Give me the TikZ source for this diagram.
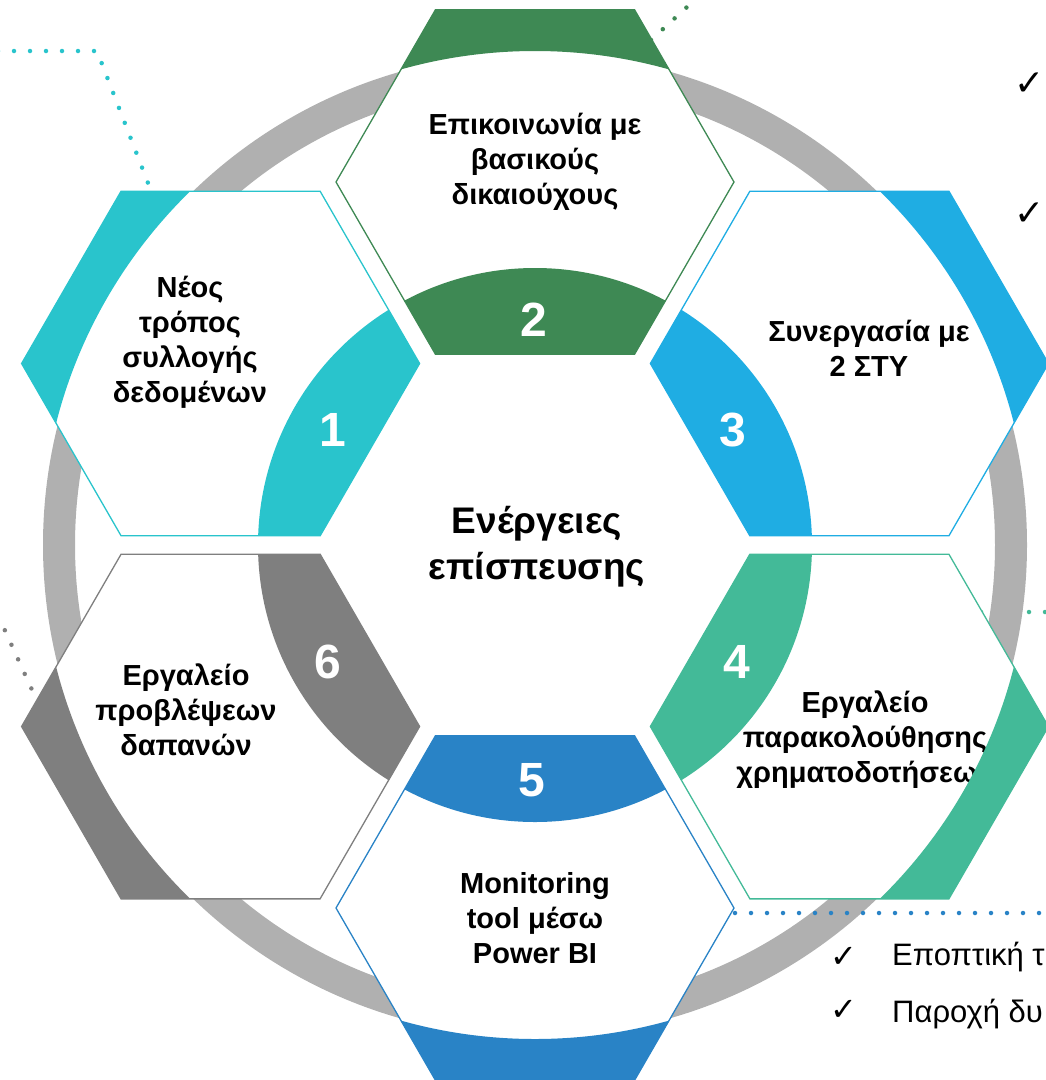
\documentclass[tikz,border=0pt]{standalone}
\usepackage{fontspec}
\setmainfont{Liberation Sans}
\newfontfamily\checkfont{DejaVu Sans}
\usetikzlibrary{shapes.geometric}

\definecolor{tealone}{HTML}{29C4CC}
\definecolor{greentwo}{HTML}{3E8954}
\definecolor{bluethree}{HTML}{1FADE3}
\definecolor{greenfour}{HTML}{43BA98}
\definecolor{bluefive}{HTML}{2983C6}
\definecolor{graysix}{HTML}{7F7F7F}
\definecolor{ringgray}{HTML}{B0B0B0}

\tikzset{
  hexa/.style={regular polygon, regular polygon sides=6, minimum size=398pt, inner sep=0pt},
  hexbase/.style={hexa, fill=white},
  hexband/.style={hexa, draw=#1, line width=1.3pt, path picture={
      \fill[#1] (O) circle[radius=277pt];
      \fill[#1, even odd rule] (O) circle[radius=494pt] (O) circle[radius=900pt];}},
  hexlabel/.style={align=center, inner sep=0pt, font=\fontsize{29}{35}\selectfont\bfseries},
  stepnum/.style={text=white, inner sep=0pt, font=\fontsize{48}{48}\selectfont\bfseries},
  dots/.style={line width=4.5pt, line cap=round, dash pattern=on 0pt off 16pt},
  checkmark/.style={inner sep=0pt, font=\checkfont\fontsize{32}{32}\selectfont},
  boldcheck/.style={anchor=east, inner sep=0pt, font=\checkfont\bfseries\fontsize{36}{36}\selectfont},
  bullettext/.style={anchor=base west, inner sep=0pt, font=\fontsize{31}{35}\selectfont},
}

\begin{document}
\begin{tikzpicture}[x=1pt, y=-1pt]
  \useasboundingbox (0,0) rectangle (1046,1080);
  \coordinate (O) at (535,545);

  % leader lines
  \coordinate (d1a) at (-2,51);
  \coordinate (d1b) at (97,51);
  \coordinate (d1c) at (148,183);
  \coordinate (d2a) at (651,40);
  \coordinate (d2b) at (699,-4);
  \coordinate (d6a) at (38,703);
  \coordinate (d6b) at (2,624);
  \coordinate (d4a) at (981,612);
  \coordinate (d4b) at (1052,612);
  \coordinate (d5a) at (735,913);
  \coordinate (d5b) at (1052,913);
  \draw[dots, tealone] (d1a) -- (d1b) -- (d1c);
  \draw[dots, greentwo] (d2a) -- (d2b);
  \draw[dots, graysix] (d6a) -- (d6b);
  \draw[dots, greenfour] (d4a) -- (d4b);

  % ring
  \fill[ringgray, even odd rule] (O) circle[radius=492pt] (O) circle[radius=460pt];
  \draw[dots, bluefive] (d5a) -- (d5b);

  % hexagons
  \node[hexbase] (h1) at (220.6,363.5) {};
  \node[hexlabel] (l1) at (190,342) {Νέος\\τρόπος\\συλλογής\\δεδομένων};
  \node[hexband=tealone] at (h1) {};
  \node[stepnum] (n1) at (333,430) {1};

  \node[hexbase] (h2) at (535,182) {};
  \node[hexlabel] (l2) at (535,162) {Επικοινωνία με\\βασικούς\\δικαιούχους};
  \node[hexband=greentwo] at (h2) {};
  \node[stepnum] (n2) at (534,320) {2};

  \node[hexbase] (h3) at (849.4,363.5) {};
  \node[hexlabel] (l3) at (869,348) {Συνεργασία με\\2 ΣΤΥ};
  \node[hexband=bluethree] at (h3) {};
  \node[stepnum] (n3) at (733,430) {3};

  \node[hexbase] (h4) at (849.4,726.5) {};
  \node[hexlabel] (l4) at (865,740) {Εργαλείο\\παρακολούθησης\\χρηματοδοτήσεων};
  \node[hexband=greenfour] at (h4) {};
  \node[stepnum] (n4) at (737,662) {4};

  \node[hexbase] (h5) at (535,908) {};
  \node[hexlabel] (l5) at (535,918) {Monitoring\\tool μέσω\\Power BI};
  \node[hexband=bluefive] at (h5) {};
  \node[stepnum] (n5) at (532,780) {5};

  \node[hexbase] (h6) at (220.6,726.5) {};
  \node[hexlabel] (l6) at (186,710) {Εργαλείο\\προβλέψεων\\δαπανών};
  \node[hexband=graysix] at (h6) {};
  \node[stepnum] (n6) at (328,662) {6};

  % centre
  \node[align=center, inner sep=0pt, font=\fontsize{37}{46}\selectfont\bfseries] (title) at (537,547) {Ενέργειες\\επίσπευσης};

  % bullets
  \node[boldcheck] (c1) at (1045,84) {✓};
  \node[boldcheck] (c2) at (1045,214) {✓};
  \node[checkmark] (c3) at (844,957) {✓};
  \node[checkmark] (c4) at (844,1010) {✓};
  \node[bullettext] (t3) at (892,965) {Εποπτική τ};
  \node[bullettext] (t4) at (892,1022) {Παροχή δυ};
\end{tikzpicture}
\end{document}
